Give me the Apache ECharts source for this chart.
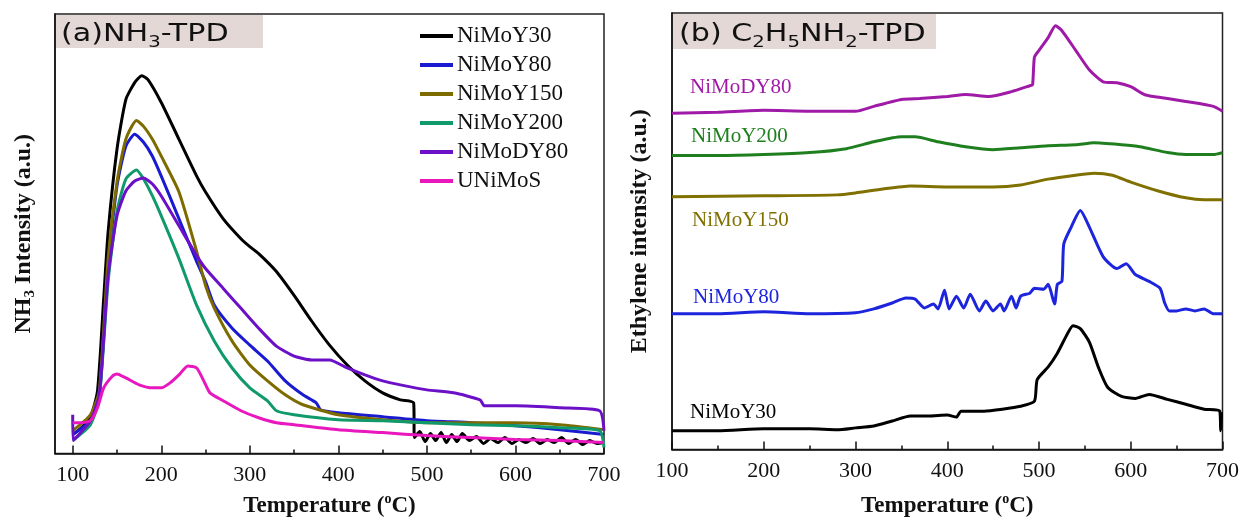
<!DOCTYPE html>
<html><head><meta charset="utf-8">
<script src="https://cdn.jsdelivr.net/npm/echarts@6/dist/echarts.min.js"></script>
<style>html,body{margin:0;padding:0;background:#fff}#c{width:1242px;height:523px}</style>
</head><body><div id="c"></div>
<script>
// ---------- Panel (a) NH3-TPD ----------
const tickLabelsA = [100, 200, 300, 400, 500, 600, 700];
const minorTicksA = [150, 250, 350, 450, 550, 650];

const a_Y30_T = [100,110,120,128,135,140,150,160,170,178,185,200,220,240,250,270,290,300,310,330,350,370,390,410,430,450,470,485,486,492,498,504,510,516,522,528,534,540,548,556,564,572,580,588,596,604,612,620,628,636,644,652,660,668,676,684,692,700];
const a_Y30_I = [19,26,36,63,156,223,306,356,373,380,376,353,316,279,263,236,216,208,201,183,159,133,109,89,73,61,54,51,16,22,12,20,13,21,11,19,12,20,13,17,10,15,11,16,10,14,11,15,10,14,11,16,10,14,9,13,10,11];

const a_Y80_T = [100,120,130,140,150,160,170,180,190,200,220,240,250,260,280,300,320,340,360,375,380,400,450,500,550,600,650,700];
const a_Y80_I = [19,33,56,189,269,309,321,313,299,279,236,193,173,149,126,109,93,73,59,51,44,41,37,33,31,28,24,19];

const a_Y150_T = [100,120,130,140,150,160,172,180,190,200,220,240,250,260,280,300,320,340,360,400,450,500,550,600,650,700];
const a_Y150_I = [23,39,63,196,273,316,335,329,316,299,263,203,169,146,113,89,73,59,49,39,34,31,31,31,29,24];

const a_Y200_T = [100,120,130,140,150,160,172,180,190,200,220,240,260,280,300,320,330,350,400,450,500,550,600,650,695,700];
const a_Y200_I = [13,29,56,173,243,276,285,276,259,239,196,149,113,86,66,53,43,39,34,33,31,29,28,26,23,6];

const a_DY80_T = [100,100.5,120,130,140,150,160,170,180,190,200,220,240,250,270,290,310,330,350,370,390,410,430,450,470,500,530,560,565,600,650,695,700];
const a_DY80_I = [39,13,33,59,179,239,264,274,277,271,259,229,199,186,166,146,126,108,98,94,94,86,79,73,69,64,61,54,48,48,46,43,23];

const a_UNi_T = [100,110,120,128,135,145,150,160,175,190,200,210,220,230,240,248,255,270,290,310,330,350,400,450,500,550,600,650,700];
const a_UNi_I = [31,31,33,46,66,78,80,76,69,66,66,71,79,88,86,73,61,53,43,36,31,29,24,21,18,16,14,13,11];

// ---------- Panel (b) C2H5NH2-TPD ----------
const tickLabelsB = [100, 200, 300, 400, 500, 600, 700];

const b_Y30_T = [100,150,200,250,280,300,320,340,360,380,400,410,415,440,460,480,495,498,510,520,530,537,545,555,565,575,590,605,620,640,660,680,697,698,699];
const b_Y30_I = [19,19,21,21,20,22,24,29,34,34,35,33,39,39,41,44,49,71,84,98,116,126,123,109,83,63,54,52,56,51,46,41,39,19,38];

const b_Y80_T = [100,150,200,250,300,320,340,355,365,375,385,390,397,402,410,418,425,435,442,450,458,462,470,475,480,490,495,505,510,517,520,525,527,535,545,555,570,585,595,605,620,632,637,642,650,660,670,680,690,700];
const b_Y80_I = [138,138,140,138,139,143,149,154,153,144,148,143,162,143,156,144,158,141,151,141,148,141,156,144,156,159,164,163,168,148,168,171,209,226,243,226,196,184,189,178,171,164,149,141,141,143,141,143,138,138];

const b_Y150_T = [100,200,280,300,330,360,400,450,480,510,540,560,580,600,630,660,680,700];
const b_Y150_I = [257,258,259,261,265,268,267,267,269,275,279,281,279,272,263,256,254,254];

const b_Y200_T = [100,150,200,250,290,320,350,365,390,420,450,480,510,540,560,590,610,640,660,690,700];
const b_Y200_I = [299,299,300,302,306,313,318,318,313,308,305,307,309,310,312,310,308,302,300,300,302];

const b_DY80_T = [100,150,200,250,300,320,350,370,400,420,445,470,490,493,495,500,510,518,525,540,555,570,585,600,615,625,640,660,690,700];
const b_DY80_I = [342,343,345,344,344,349,356,357,359,361,359,364,370,371,399,406,419,431,426,406,386,374,373,369,361,359,357,354,349,344];

const namesA = ['NiMoY30','NiMoY80','NiMoY150','NiMoY200','NiMoDY80','UNiMoS'];
const colorsA = ['#000000','#1a1ad0','#7d6b00','#109a6c','#6c10c8','#e817be'];
const dataA = [[a_Y30_T,a_Y30_I],[a_Y80_T,a_Y80_I],[a_Y150_T,a_Y150_I],[a_Y200_T,a_Y200_I],[a_DY80_T,a_DY80_I],[a_UNi_T,a_UNi_I]];

const namesB = ['NiMoDY80','NiMoY200','NiMoY150','NiMoY80','NiMoY30'];
const colorsB = ['#a01aa8','#1f7f1f','#7f7000','#1c24dc','#000000'];
const dataB = [[b_DY80_T,b_DY80_I],[b_Y200_T,b_Y200_I],[b_Y150_T,b_Y150_I],[b_Y80_T,b_Y80_I],[b_Y30_T,b_Y30_I]];
const labelPosB = [[690,77],[691,126],[692,210],[693,287],[690,402]];

const zip = (t, v) => t.map((x, i) => [x, v[i]]);
const serif = '"Liberation Serif","Times New Roman",serif';
const sans = '"DejaVu Sans",sans-serif';

const series = [];
dataA.forEach((d, i) => series.push({
  name: namesA[i], type: 'line', xAxisIndex: 0, yAxisIndex: 0, data: zip(d[0], d[1]),
  showSymbol: false, smooth: 0.2,
  lineStyle: {color: colorsA[i], width: 3}, itemStyle: {color: colorsA[i]}
}));
dataB.forEach((d, i) => series.push({
  name: 'b-' + namesB[i], type: 'line', xAxisIndex: 2, yAxisIndex: 1, data: zip(d[0], d[1]),
  showSymbol: false, smooth: 0.2,
  lineStyle: {color: colorsB[i], width: 3}
}));

const nameRich = {
  b: {fontFamily: serif, fontWeight: 'bold', fontSize: 23, color: '#111', lineHeight: 28, verticalAlign: 'middle'},
  sup: {fontFamily: serif, fontWeight: 'bold', fontSize: 14, color: '#111', lineHeight: 14, verticalAlign: 'top'},
  sub: {fontFamily: serif, fontWeight: 'bold', fontSize: 15, color: '#111', lineHeight: 14, verticalAlign: 'bottom'}
};
const nameRichY = Object.assign({}, nameRich, {
  b: Object.assign({}, nameRich.b, {fontSize: 24})
});
const axisLabelStyle = {fontFamily: serif, fontSize: 22, color: '#111', margin: 11};
const lineBlack = {color: '#111', width: 1.5};
const titleRich = {
  t: {fontFamily: sans, fontWeight: 'normal', fontSize: 24.5, fill: '#111', lineHeight: 32, verticalAlign: 'middle'},
  s: {fontFamily: sans, fontWeight: 'normal', fontSize: 16, fill: '#111', lineHeight: 15, verticalAlign: 'bottom'}
};

const option = {
  animation: false,
  backgroundColor: '#fff',
  grid: [
    {left: 55, top: 14, width: 549, height: 443, show: true, borderColor: '#222', borderWidth: 1.5},
    {left: 672, top: 13, width: 555, height: 444, show: true, borderColor: '#222', borderWidth: 1.5}
  ],
  xAxis: [
    {gridIndex: 0, type: 'value', min: 80, max: 700,
     axisLine: {lineStyle: lineBlack},
     axisTick: {inside: true, length: 8, customValues: tickLabelsA, lineStyle: lineBlack},
     axisLabel: Object.assign({customValues: tickLabelsA}, axisLabelStyle),
     splitLine: {show: false},
     name: '{b|Temperature (}{sup|o}{b|C)}', nameLocation: 'middle', nameGap: 53,
     nameTextStyle: {rich: nameRich, verticalAlign: 'middle'}},
    {gridIndex: 0, type: 'value', min: 80, max: 700, position: 'bottom',
     axisLine: {show: false},
     axisTick: {inside: true, length: 4, customValues: minorTicksA, lineStyle: lineBlack},
     axisLabel: {show: false}, splitLine: {show: false}},
    {gridIndex: 1, type: 'value', min: 100, max: 700, interval: 100,
     axisLine: {lineStyle: lineBlack},
     axisTick: {inside: true, length: 8, lineStyle: lineBlack},
     minorTick: {show: true, splitNumber: 2, length: 4, lineStyle: lineBlack},
     axisLabel: Object.assign({customValues: tickLabelsB}, axisLabelStyle),
     splitLine: {show: false},
     name: '{b|Temperature (}{sup|o}{b|C)}', nameLocation: 'middle', nameGap: 57,
     nameTextStyle: {rich: nameRich, verticalAlign: 'middle'}}
  ],
  yAxis: [
    {gridIndex: 0, type: 'value', min: 0, max: 442,
     axisLine: {show: true, lineStyle: lineBlack}, axisTick: {show: false}, axisLabel: {show: false},
     splitLine: {show: false},
     name: '{b|NH}{sub|3}{b| Intensity (a.u.)}', nameLocation: 'middle', nameGap: 31, nameRotate: 90,
     nameTextStyle: {rich: nameRichY, verticalAlign: 'middle'}},
    {gridIndex: 1, type: 'value', min: 0, max: 444,
     axisLine: {show: true, lineStyle: lineBlack}, axisTick: {show: false}, axisLabel: {show: false},
     splitLine: {show: false},
     name: '{b|Ethylene intensity (a.u.)}', nameLocation: 'middle', nameGap: 32, nameRotate: 90,
     nameTextStyle: {rich: nameRichY, verticalAlign: 'middle'}}
  ],
  legend: {
    data: namesA, orient: 'vertical', left: 415, top: 19, itemWidth: 33, itemHeight: 4, itemGap: 5,
    icon: 'rect',
    textStyle: {fontFamily: serif, fontSize: 23, color: '#111', lineHeight: 24, padding: [0, 0, 0, -1]}
  },
  graphic: [
    {type: 'rect', left: 56, top: 15, shape: {width: 207, height: 33}, style: {fill: '#e3d8d6'}, z: 1},
    {type: 'rect', left: 673, top: 14, shape: {width: 263, height: 35}, style: {fill: '#e3d8d6'}, z: 1},
    {type: 'text', x: 61, y: 35, scaleX: 1.23, z: 5,
     style: {text: '{t|(a)NH}{s|3}{t|-TPD}', rich: titleRich, verticalAlign: 'middle', align: 'left'}},
    {type: 'text', x: 679, y: 35, scaleX: 1.23, z: 5,
     style: {text: '{t|(b) C}{s|2}{t|H}{s|5}{t|NH}{s|2}{t|-TPD}', rich: titleRich, verticalAlign: 'middle', align: 'left'}}
  ].concat(namesB.map((n, i) => ({
    type: 'text', left: labelPosB[i][0], top: labelPosB[i][1], z: 10,
    style: {text: n, fill: colorsB[i], font: '21px ' + serif}
  }))),
  series: series
};
const chart = echarts.init(document.getElementById('c'), null, {renderer: 'canvas'});
chart.setOption(option);
</script></body></html>
